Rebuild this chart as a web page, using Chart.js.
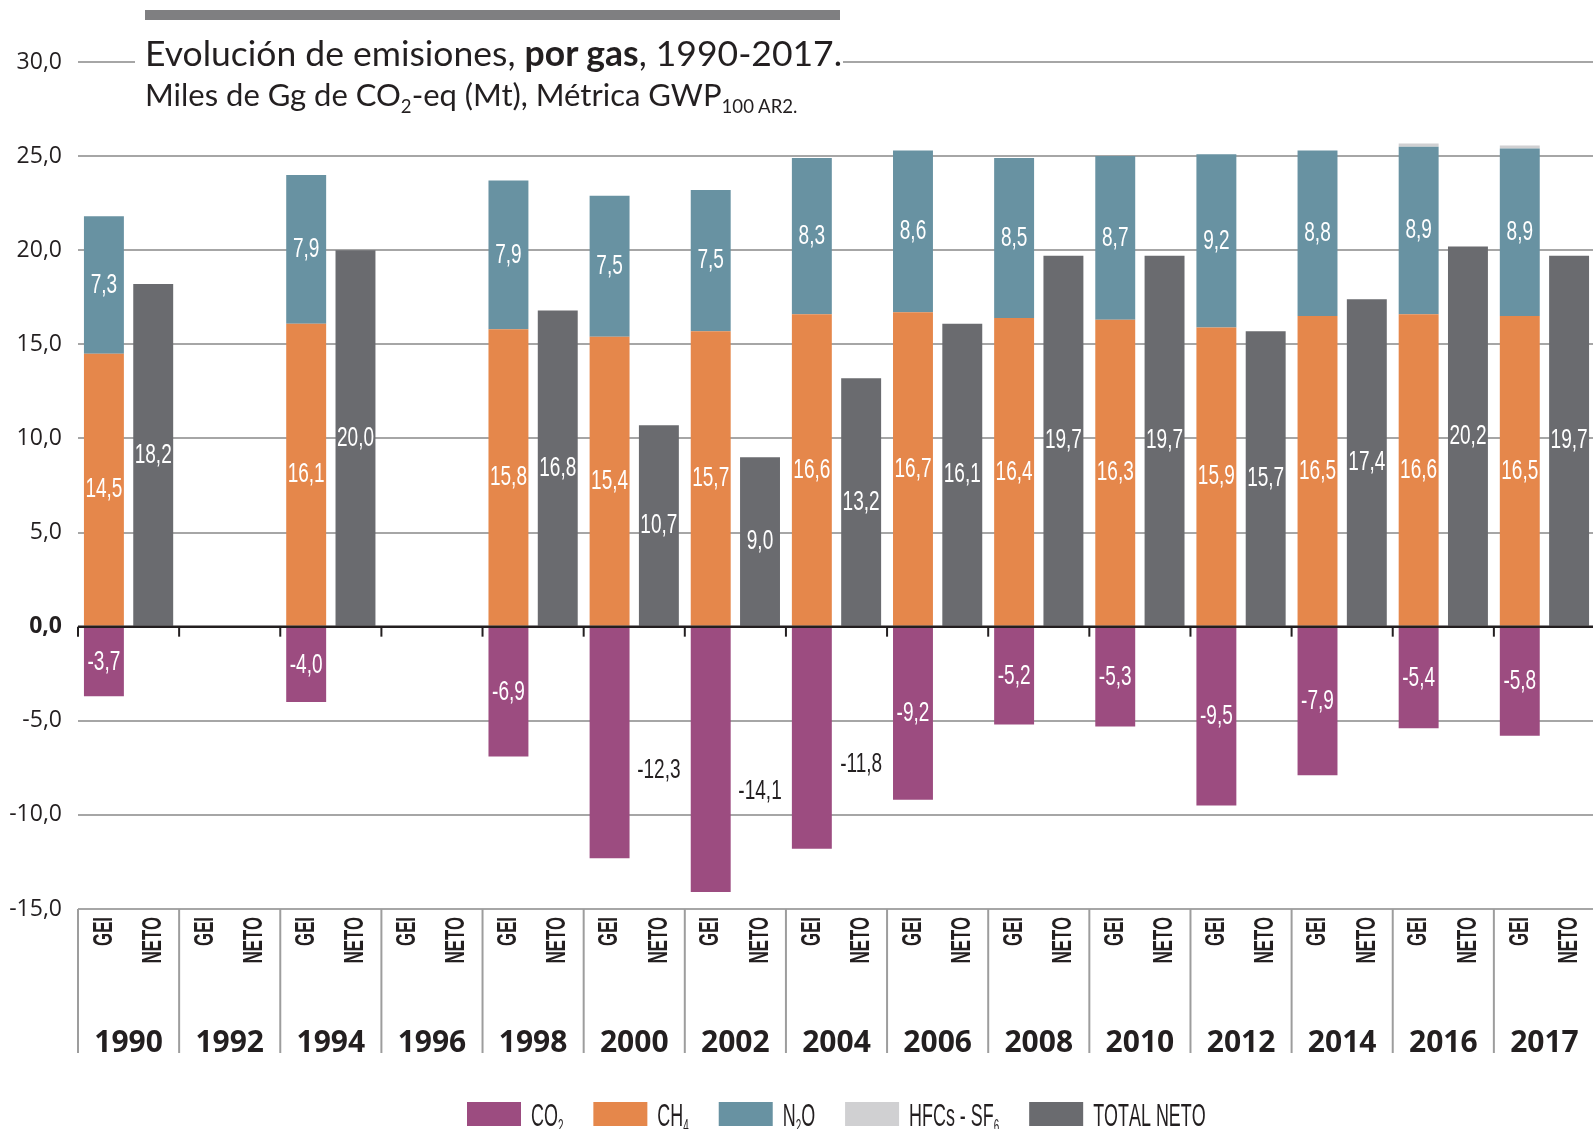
<!DOCTYPE html>
<html>
<head>
<meta charset="utf-8">
<script src="https://cdn.jsdelivr.net/npm/chart.js@4.4.0/dist/chart.umd.min.js"></script>
<style>
  html, body { margin: 0; padding: 0; background: #fff; overflow: hidden; width: 1593px; height: 1129px; }
  #wrap { position: relative; width: 1593px; height: 1129px; overflow: hidden; }
  #chart { position: absolute; left: 0; top: 0; }
  #topbar { position: absolute; left: 145px; top: 10px; width: 695px; height: 10px; background: #7f7f81; }
  #head { position: absolute; left: 135px; top: 32px; width: 708px; height: 88px; background: #fff; }
  #head div { position: absolute; left: 10px; white-space: nowrap; line-height: 1; color: #231f20; font-family: Lato, 'Open Sans', sans-serif; }
  #t1 { top: 3px; font-size: 35.5px; }
  #t2 { top: 47px; font-size: 31px; }
  #head sub { font-size: 0.6em; vertical-align: -0.35em; line-height: 0; }
</style>
</head>
<body>
<div id="wrap">
  <canvas id="chart" width="1595" height="1129"></canvas>
  <div id="topbar"></div>
  <div id="head">
    <div id="t1">Evolución de emisiones, <b>por gas</b>, 1990-2017.</div>
    <div id="t2">Miles de Gg de CO<sub>2</sub>-eq (Mt), Métrica GWP<sub>100 AR2.</sub></div>
  </div>
</div>
<script>
// data (Mt CO2-eq)
const years = ['1990', '1992', '1994', '1996', '1998', '2000', '2002', '2004', '2006', '2008', '2010', '2012', '2014', '2016', '2017'];
const co2 = [-3.7, null, -4.0, null, -6.9, -12.3, -14.1, -11.8, -9.2, -5.2, -5.3, -9.5, -7.9, -5.4, -5.8];
const ch4 = [14.5, null, 16.1, null, 15.8, 15.4, 15.7, 16.6, 16.7, 16.4, 16.3, 15.9, 16.5, 16.6, 16.5];
const n2o = [7.3, null, 7.9, null, 7.9, 7.5, 7.5, 8.3, 8.6, 8.5, 8.7, 9.2, 8.8, 8.9, 8.9];
const hfc = [0, null, 0, null, 0, 0, 0, 0, 0, 0, 0, 0, 0, 0.17, 0.17];
const neto = [18.2, null, 20.0, null, 16.8, 10.7, 9.0, 13.2, 16.1, 19.7, 19.7, 15.7, 17.4, 20.2, 19.7];
const barNames = ['GEI', 'NETO'];
const seriesNames = ['CO₂', 'CH₄', 'N₂O', 'HFCs - SF₆', 'TOTAL NETO'];
const colors = ['#9c4c80', '#e5874b', '#6892a2', '#d0d0d2', '#6a6b6f'];

const CF = '"Liberation Sans", Arial, sans-serif'; // condensed via scale
const INK = '#231f20';
const SUB = '₀₁₂₃₄₅₆₇₈₉';

const fmt = v => v.toFixed(1).replace('.', ',');

// centered, horizontally squeezed text
function label(ctx, txt, x, y, size, sx, color, weight = 'normal') {
    ctx.save();
    ctx.translate(x, y);
    ctx.scale(sx, 1);
    ctx.font = `${weight} ${size}px ${CF}`;
    ctx.textAlign = 'center';
    ctx.textBaseline = 'middle';
    ctx.fillStyle = color;
    ctx.fillText(txt, 0, 0);
    ctx.restore();
}

// left aligned text with subscript digits, returns width
function richText(ctx, txt, x, y, size, sx, color) {
    let cx = x;
    for (const ch of txt) {
        const si = SUB.indexOf(ch), sub = si >= 0;
        const s = sub ? size * 0.55 : size, c = sub ? String(si) : ch;
        ctx.save();
        ctx.font = `${s}px ${CF}`;
        const w = ctx.measureText(c).width * sx;
        ctx.translate(cx, y + (sub ? size * 0.2 : 0));
        ctx.scale(sx, 1);
        ctx.fillStyle = color;
        ctx.textAlign = 'left';
        ctx.textBaseline = 'alphabetic';
        ctx.fillText(c, 0, 0);
        ctx.restore();
        cx += w;
    }
    return cx - x;
}

const decor = {
    id: 'decor',
    afterDatasetsDraw(chart) {
        const { ctx, chartArea: a, scales: { x, y } } = chart;
        const ds = chart.data.datasets;
        const metas = ds.map((d, i) => chart.getDatasetMeta(i));
        const cw = x.getPixelForValue(1) - x.getPixelForValue(0);
        const zero = y.getPixelForValue(0);

        // zero line with ticks at group boundaries
        ctx.save();
        ctx.strokeStyle = INK;
        ctx.lineWidth = 2.5;
        ctx.beginPath(); ctx.moveTo(a.left, zero); ctx.lineTo(a.right, zero); ctx.stroke();
        ctx.lineWidth = 2;
        years.forEach((yr, i) => {
            const bx = x.getPixelForValue(i) - cw / 2;
            ctx.beginPath(); ctx.moveTo(bx, zero); ctx.lineTo(bx, zero + 10); ctx.stroke();
        });
        ctx.restore();

        // value labels
        [0, 1, 2, 4].forEach(di => {
            metas[di].data.forEach((el, i) => {
                const v = ds[di].data[i];
                if (v == null || v === 0) return;
                let px = el.x, py = (el.y + el.base) / 2, col = '#fff';
                if (di === 0 && v < -10) { // long CO2 bars: label beside, in the NETO column
                    px = metas[4].data[i].x;
                    py = y.getPixelForValue(v * 0.62);
                    col = INK;
                }
                label(ctx, fmt(v), px, py, 28, 0.68, col);
            });
        });
    },
    afterDraw(chart) {
        const { ctx, chartArea: a, scales: { x } } = chart;
        const metas = chart.data.datasets.map((d, i) => chart.getDatasetMeta(i));
        const cw = x.getPixelForValue(1) - x.getPixelForValue(0);
        const offG = metas[1].data[0].x - x.getPixelForValue(0);
        const offN = metas[4].data[0].x - x.getPixelForValue(0);

        ctx.save();
        // group separators under the plot
        ctx.strokeStyle = '#9d9d9d';
        ctx.lineWidth = 2;
        for (let i = 0; i <= years.length; i++) {
            const bx = x.getPixelForValue(0) - cw / 2 + i * cw;
            ctx.beginPath(); ctx.moveTo(bx, a.bottom); ctx.lineTo(bx, 1053); ctx.stroke();
        }
        years.forEach((yr, i) => {
            const cx = x.getPixelForValue(i);
            [offG, offN].forEach((off, k) => {
                ctx.save();
                ctx.translate(cx + off, 917);
                ctx.rotate(-Math.PI / 2);
                ctx.scale(0.6, 1);
                ctx.font = `bold 28px ${CF}`;
                ctx.textAlign = 'right';
                ctx.textBaseline = 'middle';
                ctx.fillStyle = INK;
                ctx.fillText(barNames[k], 0, 0);
                ctx.restore();
            });
            ctx.font = 'bold 30px "Open Sans", sans-serif';
            ctx.textAlign = 'center';
            ctx.textBaseline = 'alphabetic';
            ctx.fillStyle = INK;
            ctx.fillText(yr, cx, 1052);
        });

        // legend
        let lx = 467;
        chart.data.datasets.forEach(d => {
            ctx.fillStyle = d.backgroundColor;
            ctx.fillRect(lx, 1102, 54, 24);
            lx += 64;
            lx += richText(ctx, d.label, lx, 1126, 32, 0.56, INK);
            lx += 30;
        });
        ctx.restore();
    }
};

const series = [co2, ch4, n2o, hfc, neto];
new Chart(document.getElementById('chart'), {
    type: 'bar',
    data: {
        labels: years,
        datasets: series.map((data, i) => ({
            label: seriesNames[i],
            data,
            backgroundColor: colors[i],
            borderWidth: 0,
            stack: i === 4 ? 'neto' : 'gei',
            categoryPercentage: 0.975,
            barPercentage: 0.81,
        }))
    },
    options: {
        responsive: false,
        animation: false,
        devicePixelRatio: 1,
        layout: { padding: { top: 62, bottom: 220, left: 0, right: 0 } },
        plugins: { legend: { display: false }, tooltip: { enabled: false } },
        scales: {
            x: { stacked: true, display: false },
            y: {
                stacked: true, min: -15, max: 30,
                afterFit: s => { s.width = 78; },
                ticks: {
                    stepSize: 5, padding: 16, color: INK,
                    font: c => ({ family: '"Open Sans", sans-serif', size: 23, weight: c.tick && c.tick.value === 0 ? 'bold' : 'normal' }),
                    callback: v => fmt(v),
                },
                grid: { color: '#a6a6a6', lineWidth: 2, drawTicks: false },
                border: { display: false },
            }
        }
    },
    plugins: [decor]
});
</script>
</body>
</html>
